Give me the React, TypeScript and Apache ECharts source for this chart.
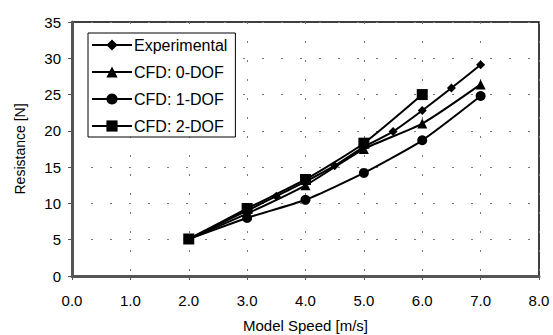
import React, { useEffect, useRef } from "react";
import * as echarts from "echarts";

const expSpeed = [2.0, 3.0, 3.5, 4.0, 4.5, 5.0, 5.5, 6.0, 6.5, 7.0];
const expRes = [5.1, 9.0, 11.0, 13.0, 15.2, 17.8, 19.9, 22.8, 25.9, 29.1];
const cfdSpeed = [2.0, 3.0, 4.0, 5.0, 6.0, 7.0];
const cfd0Res = [5.1, 8.6, 12.5, 17.5, 21.0, 26.4];
const cfd1Res = [5.1, 8.0, 10.5, 14.2, 18.7, 24.8];
const cfd2Speed = [2.0, 3.0, 4.0, 5.0, 6.0];
const cfd2Res = [5.1, 9.3, 13.3, 18.3, 25.0];
const seriesNames = ["Experimental", "CFD: 0-DOF", "CFD: 1-DOF", "CFD: 2-DOF"];

const pairs = (xs: number[], ys: number[]) => xs.map((x, i) => [x, ys[i]]);

export default function App() {
  const ref = useRef<HTMLDivElement>(null);
  useEffect(() => {
    const chart = echarts.init(ref.current!, null, { renderer: "svg" });
    const font = "Liberation Sans, Arial, sans-serif";
    const mk = (name: string, data: number[][], symbol: string, size: number) => ({
      name,
      type: "line",
      data,
      symbol,
      symbolSize: size,
      smooth: 0.2,
      lineStyle: { color: "#000", width: 2 },
      itemStyle: { color: "#000" },
    });
    chart.setOption({
      animation: false,
      textStyle: { fontFamily: font },
      grid: {
        left: 72,
        top: 22,
        width: 467,
        height: 254,
        show: true,
        borderColor: "#000",
        borderWidth: 1.5,
        backgroundColor: "transparent",
        outerBoundsMode: "none",
        containLabel: false,
      },
      legend: {
        orient: "vertical",
        left: 88,
        top: 33,
        data: seriesNames,
        backgroundColor: "#fff",
        borderColor: "#000",
        borderWidth: 1,
        padding: [4, 8, 3, 3],
        itemWidth: 40,
        itemHeight: 14,
        itemGap: 11,
        textStyle: { fontSize: 16, color: "#000", fontFamily: font, padding: [0, 0, 0, -3] },
      },
      xAxis: {
        type: "value",
        min: 0,
        max: 8,
        interval: 1,
        name: "Model Speed [m/s]",
        nameLocation: "middle",
        nameGap: 42,
        nameTextStyle: { fontSize: 15, color: "#000", fontFamily: font },
        axisLine: { lineStyle: { color: "#555", width: 3 } },
        axisTick: { show: true, length: 4, inside: false, lineStyle: { color: "#555" } },
        axisLabel: {
          fontSize: 15,
          color: "#000",
          margin: 17,
          formatter: (v: number) => v.toFixed(1),
        },
        splitLine: { show: true, lineStyle: { color: "#777", type: [2, 17], width: 1 } },
      },
      yAxis: {
        type: "value",
        min: 0,
        max: 35,
        interval: 5,
        name: "Resistance [N]",
        nameLocation: "middle",
        nameGap: 45,
        nameTextStyle: { fontSize: 14, color: "#000", fontFamily: font },
        axisLine: { show: true, lineStyle: { color: "#555", width: 3 } },
        axisTick: { show: true, length: 4, lineStyle: { color: "#555" } },
        axisLabel: { fontSize: 15, color: "#000", margin: 11 },
        splitLine: { show: true, lineStyle: { color: "#777", type: [2, 17], width: 1 } },
      },
      series: [
        mk(seriesNames[0], pairs(expSpeed, expRes), "diamond", 9),
        mk(seriesNames[1], pairs(cfdSpeed, cfd0Res), "triangle", 10),
        mk(seriesNames[2], pairs(cfdSpeed, cfd1Res), "circle", 10),
        mk(seriesNames[3], pairs(cfd2Speed, cfd2Res), "rect", 11),
      ],
    });
    return () => chart.dispose();
  }, []);
  return <div ref={ref} style={{ width: 553, height: 335, position: "absolute", left: 0, top: 0 }} />;
}
